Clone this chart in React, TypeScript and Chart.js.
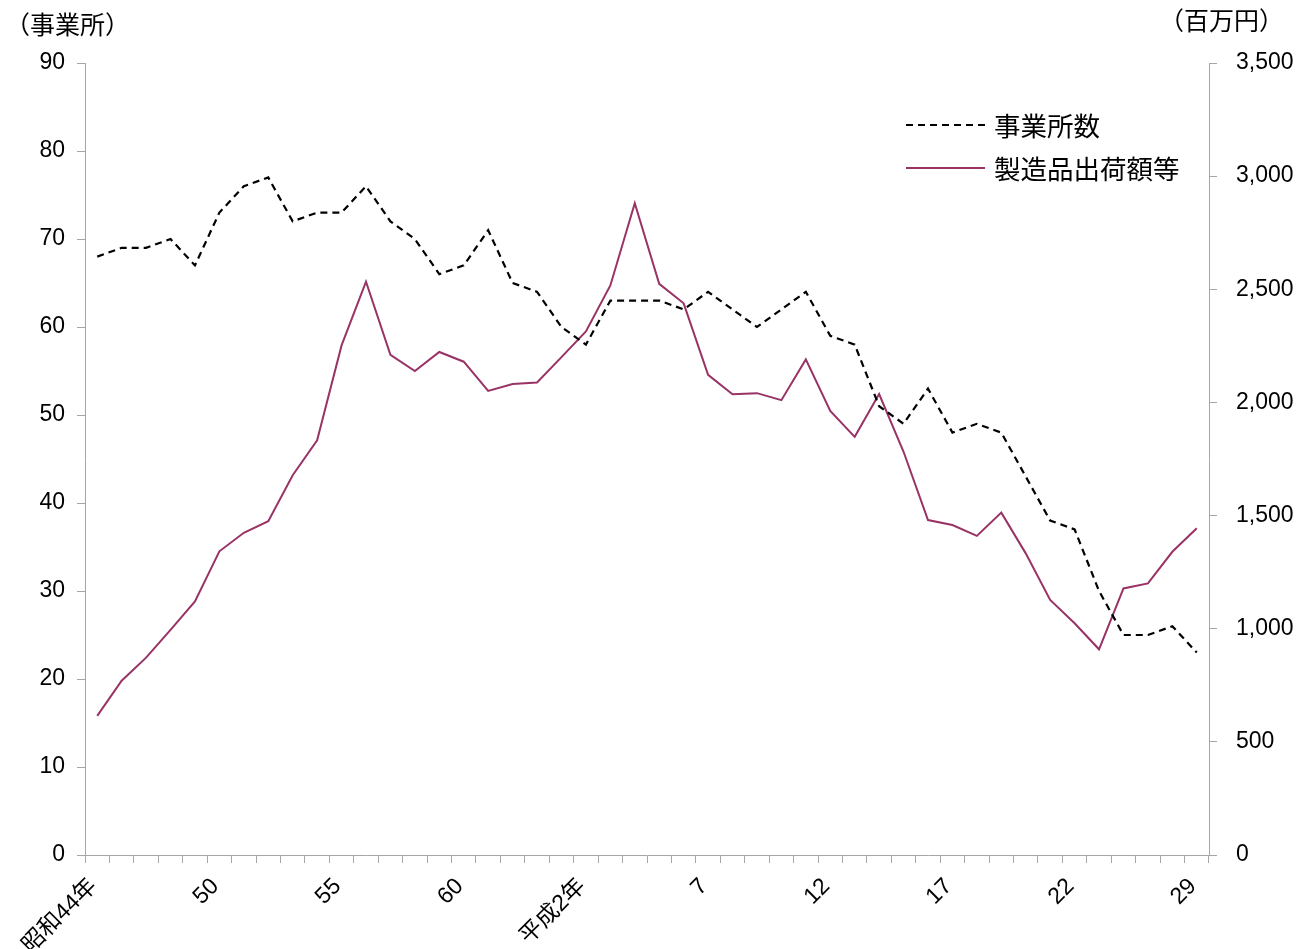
import React, { useEffect, useRef } from "react";
import { Chart, registerables } from "chart.js";

Chart.register(...registerables);

const FONT = "'Liberation Sans', 'Noto Sans CJK JP', sans-serif";
const JFONT = "'Noto Sans CJK JP', sans-serif";

const categories = [
  "昭和44年", "46", "47", "48", "49", "50", "51", "52", "53", "54",
  "55", "56", "57", "58", "59", "60", "61", "62", "63", "平成元年",
  "平成2年", "3", "4", "5", "6", "7", "8", "9", "10", "11",
  "12", "13", "14", "15", "16", "17", "18", "19", "20", "21",
  "22", "24", "25", "26", "28", "29",
];

const shownLabels = ["昭和44年", "50", "55", "60", "平成2年", "7", "12", "17", "22", "29"];

const establishments = [
  68, 69, 69, 70, 67, 73, 76, 77, 72, 73,
  73, 76, 72, 70, 66, 67, 71, 65, 64, 60,
  58, 63, 63, 63, 62, 64, 62, 60, 62, 64,
  59, 58, 51, 49, 53, 48, 49, 48, 43, 38,
  37, 30, 25, 25, 26, 23,
];

const shipments = [
  615, 770, 872, 995, 1121, 1342, 1424, 1475, 1678, 1833,
  2252, 2534, 2210, 2139, 2223, 2180, 2051, 2081, 2088, 2200,
  2314, 2517, 2880, 2524, 2438, 2122, 2036, 2041, 2010, 2190,
  1962, 1848, 2037, 1782, 1480, 1458, 1410, 1513, 1333, 1127,
  1024, 909, 1178, 1200, 1340, 1444,
];

const seriesNames = ["事業所数", "製造品出荷額等"];
const leftTitle = "（事業所）";
const rightTitle = "（百万円）";

const AXIS_COLOR = "#a6a6a6";
const LINE2_COLOR = "#993366";

export default function App() {
  const ref = useRef<HTMLCanvasElement | null>(null);

  useEffect(() => {
    if (!ref.current) return;

    const overlay = {
      id: "overlay",
      afterDraw(chart: any) {
        const ctx = chart.ctx as CanvasRenderingContext2D;
        ctx.save();
        ctx.fillStyle = "#000";
        ctx.textBaseline = "middle";
        ctx.font = `25px ${JFONT}`;
        ctx.textAlign = "left";
        ctx.fillText(leftTitle, 5, 24);
        ctx.textAlign = "right";
        ctx.fillText(rightTitle, 1284, 20);

        // legend
        const items = chart.data.datasets;
        const ys = [125, 168];
        items.forEach((ds: any, i: number) => {
          const y = ys[i];
          ctx.beginPath();
          ctx.strokeStyle = ds.borderColor;
          ctx.lineWidth = ds.borderWidth;
          ctx.setLineDash(ds.borderDash || []);
          ctx.moveTo(906, y);
          ctx.lineTo(985, y);
          ctx.stroke();
          ctx.setLineDash([]);
          ctx.font = `26.5px ${JFONT}`;
          ctx.textAlign = "left";
          ctx.fillStyle = "#000";
          ctx.fillText(ds.label, 994, y + 1);
        });
        ctx.restore();
      },
    };

    const chart = new Chart(ref.current, {
      type: "line",
      data: {
        labels: categories,
        datasets: [
          {
            label: seriesNames[0],
            data: establishments,
            yAxisID: "y",
            borderColor: "#000000",
            borderWidth: 2.2,
            borderDash: [7, 5],
            pointRadius: 0,
            tension: 0,
            fill: false,
          },
          {
            label: seriesNames[1],
            data: shipments,
            yAxisID: "y1",
            borderColor: LINE2_COLOR,
            borderWidth: 2,
            pointRadius: 0,
            tension: 0,
            fill: false,
          },
        ],
      },
      options: {
        animation: false,
        responsive: true,
        maintainAspectRatio: false,
        layout: { padding: { top: 63, left: 0, right: 0, bottom: 0 } },
        plugins: {
          legend: { display: false },
          tooltip: { enabled: false },
        },
        scales: {
          x: {
            type: "category",
            offset: true,
            grid: {
              display: true,
              offset: true,
              drawOnChartArea: false,
              drawTicks: true,
              tickLength: 8,
              color: AXIS_COLOR,
            },
            border: { display: true, color: AXIS_COLOR, width: 1 },
            ticks: {
              autoSkip: false,
              minRotation: 45,
              maxRotation: 45,
              padding: 10,
              labelOffset: -4,
              color: "#000",
              font: { family: FONT, size: 23 },
              callback: (_v: any, index: number) =>
                shownLabels.includes(categories[index]) ? categories[index] : "",
            },
            afterFit: (scale: any) => {
              scale.height = 94;
            },
          },
          y: {
            type: "linear",
            position: "left",
            min: 0,
            max: 90,
            grid: {
              drawOnChartArea: false,
              drawTicks: true,
              tickLength: 8,
              color: AXIS_COLOR,
            },
            border: { display: true, color: AXIS_COLOR, width: 1 },
            ticks: {
              stepSize: 10,
              padding: 12,
              color: "#000",
              font: { family: FONT, size: 23 },
            },
            afterFit: (scale: any) => {
              scale.width = 85;
            },
          },
          y1: {
            type: "linear",
            position: "right",
            min: 0,
            max: 3500,
            grid: {
              drawOnChartArea: false,
              drawTicks: true,
              tickLength: 8,
              color: AXIS_COLOR,
            },
            border: { display: true, color: AXIS_COLOR, width: 1 },
            ticks: {
              stepSize: 500,
              padding: 19,
              color: "#000",
              font: { family: FONT, size: 23 },
              callback: (v: any) => Number(v).toLocaleString("en-US"),
            },
            afterFit: (scale: any) => {
              scale.width = 102;
            },
          },
        },
      },
      plugins: [overlay],
    });

    return () => chart.destroy();
  }, []);

  return (
    <div
      style={{
        position: "absolute",
        left: 0,
        top: 0,
        width: 1311,
        height: 949,
        background: "#fff",
      }}
    >
      <canvas ref={ref} />
    </div>
  );
}
